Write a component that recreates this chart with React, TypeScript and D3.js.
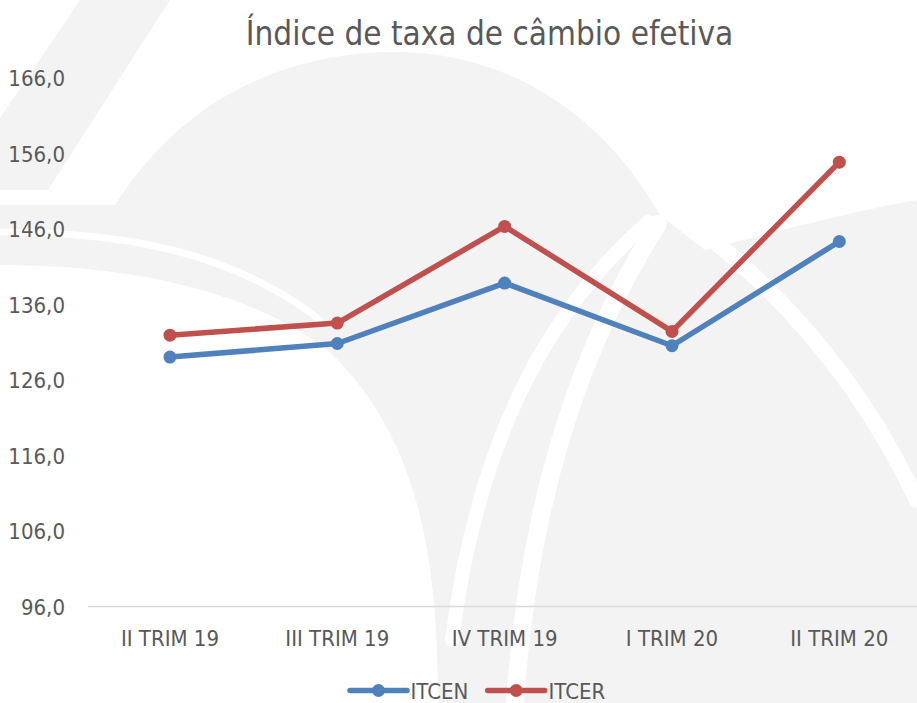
import React from "react";
import * as d3 from "d3";

const categories = ["II TRIM 19", "III TRIM 19", "IV TRIM 19", "I TRIM 20", "II TRIM 20"];
const itcen = [129.0, 130.8, 138.8, 130.5, 144.3];
const itcer = [131.9, 133.5, 146.3, 132.4, 154.8];
const yTicks = [96, 106, 116, 126, 136, 146, 156, 166];
const seriesNames = ["ITCEN", "ITCER"];
const seriesColors = ["#4f81bd", "#c0504d"];

const W = 917;
const H = 703;
const FONT = "'Liberation Sans Narrow', 'DejaVu Sans Condensed', Lato, sans-serif";
const TEXT = "#595959";

export default function App() {
  const x = d3.scalePoint<string>().domain(categories).range([86.3, 923]).padding(0.5);
  const y = d3.scaleLinear().domain([96, 166]).range([606.5, 77.5]);
  const line = d3
    .line<number>()
    .x((_, i) => x(categories[i]) as number)
    .y((d) => y(d));
  const fmt = (v: number) => v.toFixed(1).replace(".", ",");
  const series = [itcen, itcer];

  return (
    <svg
      width={W}
      height={H}
      style={{ position: "absolute", left: 0, top: 0, display: "block" }}
      fontFamily={FONT}
    >
      <rect width={W} height={H} fill="#ffffff" />
      {/* watermark background */}
      <g fill="#f3f3f3">
        <path d="M80,0 L170,0 L48,190 L0,190 L0,118 Z" />
        <path d="M0,205 L115,205 C185,95 290,52 395,52 C505,52 600,110 660,215 L705,250 C780,230 860,210 917,200 L917,703 L438,703 C438,560 420,440 330,352 C250,290 130,265 0,265 Z" />
      </g>
      <g fill="none" stroke="#ffffff" strokeLinecap="round">
        <path d="M0,232 C120,232 230,250 320,320" strokeWidth={7} />
        <path d="M648,222 C560,300 480,420 452,640" strokeWidth={14} />
        <path d="M658,224 C590,330 530,480 515,703" strokeWidth={18} />
        <path d="M690,222 C780,290 860,380 917,500" strokeWidth={16} />
      </g>

      {/* title */}
      <text x={489.5} y={45} textAnchor="middle" fontSize={33} fill={TEXT}>
        Índice de taxa de câmbio efetiva
      </text>

      {/* y axis labels */}
      {yTicks.map((t) => (
        <text key={t} x={65} y={y(t) + 8.5} textAnchor="end" fontSize={22} fill={TEXT}>
          {fmt(t)}
        </text>
      ))}

      {/* baseline */}
      <line x1={88} x2={917} y1={y(96)} y2={y(96)} stroke="#d9d9d9" strokeWidth={1.5} />

      {/* x labels */}
      {categories.map((c) => (
        <text key={c} x={x(c)} y={646} textAnchor="middle" fontSize={22} fill={TEXT}>
          {c}
        </text>
      ))}

      {/* lines */}
      {series.map((s, k) => (
        <g key={k}>
          <path d={line(s) || ""} fill="none" stroke={seriesColors[k]} strokeWidth={5.5} strokeLinejoin="round" />
          {s.map((v, i) => (
            <circle key={i} cx={x(categories[i])} cy={y(v)} r={6.5} fill={seriesColors[k]} />
          ))}
        </g>
      ))}

      {/* legend */}
      {[
        { x0: 350, tx: 410.5 },
        { x0: 487.7, tx: 548.5 },
      ].map((l, k) => (
        <g key={k}>
          <line x1={l.x0} x2={l.x0 + 57} y1={690.5} y2={690.5} stroke={seriesColors[k]} strokeWidth={5.5} strokeLinecap="round" />
          <circle cx={l.x0 + 28.5} cy={690.5} r={6.5} fill={seriesColors[k]} />
          <text x={l.tx} y={699} fontSize={22} fill={TEXT}>
            {seriesNames[k]}
          </text>
        </g>
      ))}
    </svg>
  );
}
